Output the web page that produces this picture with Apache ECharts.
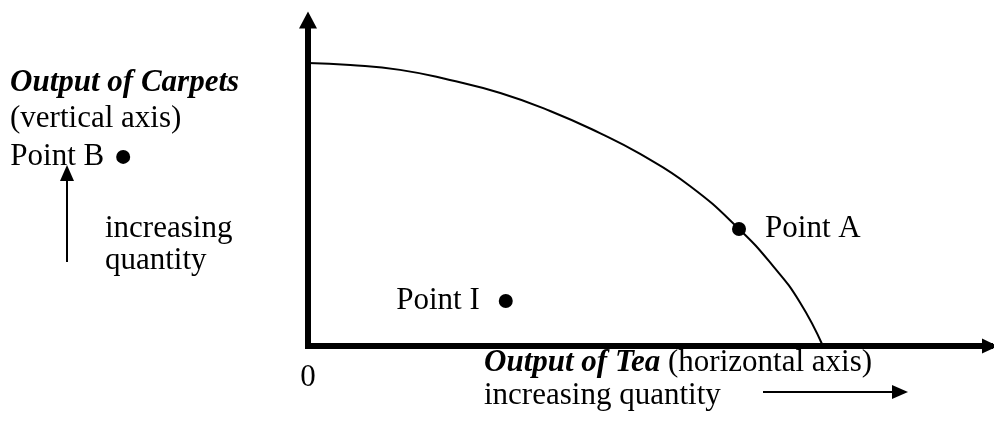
<!DOCTYPE html>
<html>
<head>
<meta charset="utf-8">
<script src="https://cdn.jsdelivr.net/npm/echarts@6/dist/echarts.min.js"></script>
<style>
  html, body { margin: 0; padding: 0; background: #fff; }
  #chart { width: 994px; height: 430px; }
</style>
</head>
<body>
<div id="chart"></div>
<script>
// production possibility frontier
const teaOutput = [0, 6.2, 13.5, 20.8, 28.2, 35.5, 42.8, 48.7, 56.0, 63.2, 68.2, 72.1, 75.5];
const carpetOutput = [86.8, 86.2, 84.7, 81.6, 77.6, 72.1, 65.3, 58.9, 49.1, 35.9, 24.5, 13.5, 0];

// labelled points
const pointNames = ['Point A', 'Point I', 'Point B'];
const pointTea = [63.2, 29.0, -27.1];
const pointCarpets = [35.9, 13.8, 58.0];
const labelSide = ['right', 'left', 'left'];

const serif = '"Liberation Serif", "Times New Roman", serif';
const fontSize = 31;

const chart = echarts.init(document.getElementById('chart'));

const frontier = teaOutput.map((x, i) => [x, carpetOutput[i]]);
const points = pointNames.map((name, i) => ({
  name: name,
  value: [pointTea[i], pointCarpets[i]],
  label: {
    position: labelSide[i],
    distance: i === 2 ? 12 : 19
  }
}));

const option = {
  backgroundColor: '#fff',
  animation: false,
  grid: { left: 308, right: 4, top: 20, bottom: 84 },
  xAxis: {
    type: 'value',
    min: 0,
    max: 100,
    splitLine: { show: false },
    axisTick: { show: false },
    axisLine: {
      show: true,
      symbol: ['none', 'triangle'],
      symbolSize: [15, 16],
      lineStyle: { color: '#000', width: 6, cap: 'square' }
    },
    axisLabel: {
      show: true,
      margin: 16,
      color: '#000',
      fontFamily: serif,
      fontSize: fontSize,
      formatter: v => (v === 0 ? '0' : '')
    }
  },
  yAxis: {
    type: 'value',
    min: 0,
    max: 100,
    splitLine: { show: false },
    axisTick: { show: false },
    axisLabel: { show: false },
    axisLine: {
      show: true,
      symbol: ['none', 'triangle'],
      symbolSize: [18, 17],
      lineStyle: { color: '#000', width: 6 }
    }
  },
  series: [
    {
      type: 'line',
      data: frontier,
      smooth: 0.5,
      showSymbol: false,
      lineStyle: { color: '#000', width: 2 },
      z: 2
    },
    {
      type: 'scatter',
      data: points,
      clip: false,
      symbolSize: 14,
      itemStyle: { color: '#000', opacity: 1 },
      label: {
        show: true,
        formatter: '{b}',
        color: '#000',
        fontFamily: serif,
        fontSize: fontSize
      },
      z: 3
    }
  ],
  graphic: [
    {
      type: 'text',
      left: 10,
      top: 67,
      style: {
        text: 'Output of Carpets',
        font: 'italic bold ' + fontSize + 'px ' + serif,
        fill: '#000'
      }
    },
    {
      type: 'text',
      left: 10,
      top: 103,
      style: {
        text: '(vertical axis)',
        font: fontSize + 'px ' + serif,
        fill: '#000'
      }
    },
    {
      type: 'text',
      left: 105,
      top: 213,
      style: {
        text: 'increasing\nquantity',
        font: fontSize + 'px ' + serif,
        lineHeight: 32,
        fill: '#000'
      }
    },
    {
      type: 'text',
      left: 484,
      top: 346,
      style: {
        text: '{b|Output of Tea} (horizontal axis)\nincreasing quantity',
        font: fontSize + 'px ' + serif,
        lineHeight: 33,
        fill: '#000',
        rich: {
          b: {
            fontStyle: 'italic',
            fontWeight: 'bold',
            fontFamily: serif,
            fontSize: fontSize,
            lineHeight: 33
          }
        }
      }
    },
    // small "increasing" arrows
    {
      type: 'line',
      shape: { x1: 67, y1: 262, x2: 67, y2: 180 },
      style: { stroke: '#000', lineWidth: 2 }
    },
    {
      type: 'polygon',
      shape: { points: [[67, 165], [60, 181], [74, 181]] },
      style: { fill: '#000' }
    },
    {
      type: 'line',
      shape: { x1: 763, y1: 392, x2: 893, y2: 392 },
      style: { stroke: '#000', lineWidth: 2 }
    },
    {
      type: 'polygon',
      shape: { points: [[908, 392], [892, 385], [892, 399]] },
      style: { fill: '#000' }
    }
  ]
};

chart.setOption(option);
</script>
</body>
</html>
